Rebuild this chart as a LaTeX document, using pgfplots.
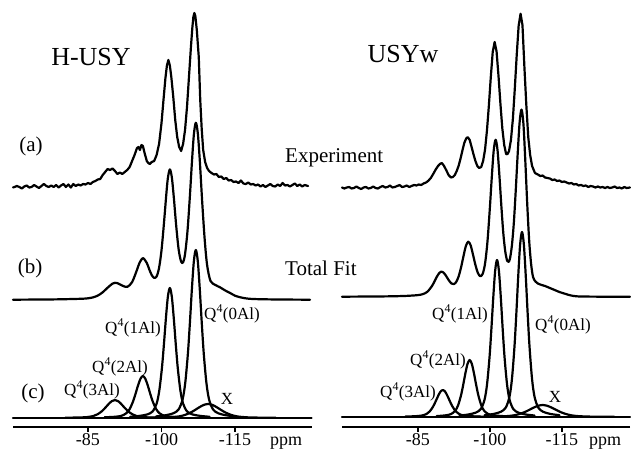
\documentclass[border=0pt]{standalone}
\usepackage{fontspec}
\setmainfont{Liberation Serif}
\usepackage{pgfplots}
\pgfplotsset{compat=1.18}
\newcommand\fT{\fontsize{26}{26}\selectfont}
\newcommand\fA{\fontsize{21}{21}\selectfont}
\newcommand\fQ{\fontsize{17}{17}\selectfont}
\begin{document}
\begin{tikzpicture}
\useasboundingbox (0pt,0pt) rectangle (631pt,450pt);
\pgfplotsset{
  tr/.style={black, line width=2.2pt, line join=round, line cap=round, no markers},
  spec/.style={scale only axis, axis x line*=bottom, axis y line=none, x dir=reverse,
    ymin=0, ymax=427, height=427pt, clip=false,
    xtick={-85,-100,-115}, xticklabels={-85,-100,-115},
    tick align=outside, major tick length=5pt,
    every tick/.style={black, line width=1.4pt},
    xticklabel style={font=\fontsize{18}{18}\selectfont, inner sep=1pt},
    axis line style={line width=1.8pt, -}},
}
% ---------------- LEFT: H-USY ----------------
\begin{axis}[spec, at={(13pt,23pt)}, anchor=south west, width=299pt, xmin=-130.7, xmax=-69.7]
% (a) experiment
\addplot[tr] coordinates {(-69.7,239.5) (-70,240) (-70.5,241) (-71,240) (-71.5,238.5) (-72,240.5) (-72.5,241.5) (-73,239.5) (-73.5,240) (-74,242) (-74.5,240.5) (-75,239) (-75.5,241) (-76,243) (-76.5,241) (-77,240) (-77.5,241.5) (-78,240) (-78.5,242) (-79,239.5) (-79.5,241.5) (-80,243) (-80.5,240) (-81,242.5) (-81.5,239.5) (-82,243) (-82.5,241) (-83,242.5) (-83.5,241.5) (-84,243) (-84.5,242.5) (-85,244) (-85.5,243) (-86,245) (-86.5,246) (-87,247.5) (-87.5,248) (-88,252) (-88.5,255) (-89,258) (-89.5,257) (-90,258.5) (-90.5,256) (-91,253) (-91.5,254.5) (-92,253) (-92.5,255) (-93,257) (-93.5,260) (-94,266) (-94.5,272) (-95,279) (-95.3,280) (-95.6,277) (-95.9,282) (-96.2,281) (-96.6,273) (-97,266) (-97.3,264) (-97.6,263) (-98,265) (-98.5,266) (-99,272) (-99.5,283) (-100,304) (-100.4,327) (-100.8,349) (-101.1,361.5) (-101.4,367) (-101.7,361.5) (-102,350) (-102.4,330) (-102.8,307) (-103.2,290) (-103.6,280) (-104,276) (-104.4,283) (-104.8,297) (-105.2,320) (-105.6,350) (-106,380) (-106.3,400) (-106.5,410) (-106.7,414) (-106.9,411) (-107.2,397) (-107.6,370) (-107.9,327) (-108.2,298) (-108.5,277) (-108.9,265) (-109.3,259) (-109.7,256) (-110.2,254) (-110.7,252.5) (-111.2,253) (-111.7,250) (-112.2,250.5) (-112.7,248) (-113.2,249) (-113.7,246.5) (-114.2,247) (-114.7,245) (-115.2,245.5) (-115.7,244) (-116.2,246.5) (-116.7,243.5) (-117.2,243) (-117.7,244.5) (-118.2,242.5) (-118.7,243) (-119.2,241.5) (-119.7,242.5) (-120.2,240.5) (-120.7,242) (-121.2,240) (-121.7,241.5) (-122.2,243) (-122.7,241) (-123.2,240.5) (-123.7,242.5) (-124.2,241) (-124.7,244) (-125.2,241.5) (-125.7,242) (-126.2,240.5) (-126.7,242) (-127.2,243.5) (-127.7,241) (-128.2,242.5) (-128.7,240.5) (-129.2,242) (-129.9,241)};
% (b) total fit
\addplot[tr, smooth] coordinates {(-69.7,127.3) (-78,127.6) (-82,128.0) (-84,128.3) (-85,128.7) (-86,129.6) (-87,131.4) (-88,134.7) (-89,139.3) (-90,143.4) (-90.5,144.2) (-91,143.9) (-92,141.4) (-93,140.1) (-94,144.9) (-95,157.2) (-95.5,164.0) (-96.2,168.9) (-97,164.0) (-97.5,157.6) (-98,152.0) (-98.5,149.1) (-99,150.6) (-99.5,159.1) (-100,176.8) (-100.5,203.9) (-101,234.0) (-101.3,249.0) (-101.7,257.6) (-102.1,249.8) (-102.5,230.1) (-103,201.0) (-103.5,177.3) (-104,165.4) (-104.4,164.7) (-104.8,172.9) (-105.3,195.9) (-105.8,231.8) (-106.2,264.5) (-106.6,292.4) (-107,304.2) (-107.4,293.9) (-107.8,267.3) (-108.3,225) (-108.8,188) (-109.3,162) (-110,146) (-111,142) (-112,139.5) (-113,136.5) (-114,134) (-115,131.3) (-116,129.8) (-117,128.8) (-118,128.2) (-120,127.8) (-124,127.5) (-130.3,127.3)};
% (c) components
\addplot[tr] coordinates {(-69.7,9) (-130.6,9)};
\addplot[tr, smooth] coordinates {(-80.38,9.3) (-83.02,9.5) (-84.78,9.9) (-86.1,11.0) (-86.98,12.8) (-87.86,15.9) (-88.52,19.2) (-89.18,22.8) (-89.84,25.8) (-90.5,27) (-91.16,25.8) (-91.82,22.8) (-92.48,19.2) (-93.14,15.9) (-94.02,12.8) (-94.9,11.0) (-96.22,9.9) (-97.98,9.5) (-100.62,9.3)};
\addplot[tr, smooth] coordinates {(-88.38,9.7) (-90.42,10.2) (-91.78,11.1) (-92.8,13.7) (-93.48,17.8) (-94.16,25.1) (-94.67,32.7) (-95.18,41.1) (-95.69,48.1) (-96.2,51) (-96.71,48.1) (-97.22,41.1) (-97.73,32.7) (-98.24,25.1) (-98.92,17.8) (-99.6,13.7) (-100.62,11.1) (-101.98,10.2) (-104.02,9.7)};
\addplot[tr, smooth] coordinates {(-93.6,10.2) (-95.49,11.1) (-97.11,12.6) (-98.19,15.6) (-99.0,23.4) (-99.54,36.2) (-100.08,58.8) (-100.485,82.3) (-100.89,108.3) (-101.295,130.2) (-101.7,139) (-102.105,130.2) (-102.51,108.3) (-102.915,82.3) (-103.32,58.8) (-103.86,36.2) (-104.4,23.4) (-105.21,15.6) (-106.29,12.6) (-107.91,11.1) (-109.8,10.2)};
\addplot[tr, smooth] coordinates {(-98.9,10.6) (-100.79,11.7) (-102.41,13.7) (-103.49,17.6) (-104.3,27.6) (-104.84,44.1) (-105.38,73.3) (-105.785,103.8) (-106.19,137.4) (-106.595,165.6) (-107,177) (-107.405,165.6) (-107.81,137.4) (-108.215,103.8) (-108.62,73.3) (-109.16,44.1) (-109.7,27.6) (-110.51,17.6) (-111.59,13.7) (-113.21,11.7) (-115.1,10.6)};
\addplot[tr, smooth] coordinates {(-95.7,9.22) (-99.3,9.39) (-101.7,9.71) (-103.5,10.55) (-104.7,11.93) (-105.9,14.36) (-106.8,16.9) (-107.7,19.7) (-108.6,22.05) (-109.5,23) (-110.4,22.05) (-111.3,19.7) (-112.2,16.9) (-113.1,14.36) (-114.3,11.93) (-115.5,10.55) (-117.3,9.71) (-119.7,9.39) (-123.3,9.22)};
\end{axis}
% ---------------- RIGHT: USYw ----------------
\begin{axis}[spec, at={(342pt,23pt)}, anchor=south west, width=288pt, xmin=-129.2, xmax=-69.2]
\addplot[tr] coordinates {(-69.2,239.5) (-69.7,238.5) (-70.2,239.5) (-70.7,240) (-71.2,238.5) (-71.7,239) (-72.2,240.5) (-72.7,239) (-73.2,238) (-73.7,239.5) (-74.2,240) (-74.7,238.5) (-75.2,239) (-75.7,240.5) (-76.2,239) (-76.7,238.5) (-77.2,240) (-77.7,241) (-78.2,239.5) (-78.7,240) (-79.2,241.5) (-79.7,239.5) (-80.2,240) (-80.7,241) (-81.2,242) (-81.7,240) (-82.2,240.5) (-82.7,241.5) (-83.2,240) (-83.7,241) (-84.2,242) (-84.7,241.5) (-85.2,242.5) (-85.7,242) (-86.2,243.5) (-86.7,244.5) (-87.2,246.3) (-87.7,249) (-88.2,253) (-88.7,257.3) (-89.2,261) (-89.6,263) (-90.0,264) (-90.4,261.5) (-90.9,257) (-91.4,252) (-91.9,249.5) (-92.3,250) (-92.7,252) (-93.1,256) (-93.5,261.3) (-93.9,268.5) (-94.3,276.8) (-94.7,284.4) (-95.1,288.8) (-95.4,289.8) (-95.8,287.1) (-96.2,280) (-96.6,272.6) (-97.0,265.9) (-97.4,260.9) (-97.8,259) (-98.2,260) (-98.6,266) (-99.0,277.3) (-99.4,296.5) (-99.8,321.5) (-100.2,350) (-100.6,375) (-101.0,385) (-101.4,375.6) (-101.8,351.4) (-102.2,323.6) (-102.6,298.6) (-103.0,281.8) (-103.4,272.8) (-103.7,273) (-104.0,276) (-104.4,287.1) (-104.8,308.1) (-105.2,338.3) (-105.6,371.9) (-106.0,401.2) (-106.4,413.3) (-106.8,401.8) (-107.2,360) (-107.6,322) (-108.0,290) (-108.4,272) (-108.8,261) (-109.4,254) (-110,252.5) (-110.5,251) (-111,251.5) (-111.5,249.5) (-112,249) (-112.5,248.5) (-113,247) (-113.5,247.5) (-114,246) (-114.5,246.5) (-115,245) (-115.5,245.5) (-116,244.5) (-116.5,243.5) (-117,244) (-117.5,242.5) (-118,243) (-118.5,241.5) (-119,242) (-119.5,241) (-120,241.5) (-120.5,240) (-121,241) (-121.5,240.5) (-122,239.5) (-122.5,240.5) (-123,239.5) (-123.5,240) (-124,239) (-124.5,240) (-125,239) (-125.5,239.5) (-126,240.5) (-126.5,239) (-127,239.5) (-127.5,238.5) (-128,240) (-128.5,239) (-129.2,239.5)};
\addplot[tr, smooth] coordinates {(-69.2,130.3) (-78,130.6) (-82,131.0) (-84,131.5) (-85,131.9) (-86,132.8) (-87,135.3) (-88,141.4) (-88.5,146.0) (-89,150.6) (-89.5,154.2) (-89.9,155.4) (-90.3,154.6) (-90.8,151.7) (-91.4,147.1) (-92,143.5) (-92.5,142.9) (-93,145.1) (-93.5,150.6) (-94,159.5) (-94.5,170.6) (-95,180.9) (-95.5,185.3) (-96,181.7) (-96.5,172.2) (-97,162.0) (-97.5,154.2) (-98,150.8) (-98.5,153.1) (-99,163.3) (-99.5,185.1) (-100,218.7) (-100.4,249.4) (-100.8,276.2) (-101.2,287.2) (-101.6,276.9) (-102,250.9) (-102.4,221.0) (-102.8,194.1) (-103.2,176.0) (-103.6,166.3) (-103.9,165.1) (-104.2,168.5) (-104.6,181.7) (-105,204.3) (-105.4,236.8) (-105.8,272.9) (-106.2,304.4) (-106.6,317.4) (-107,303) (-107.4,265) (-107.8,222) (-108.2,186) (-108.6,163) (-109,150) (-109.5,145.5) (-110,143.5) (-110.8,142) (-111.5,141) (-112.5,139) (-113.5,137) (-114.5,135) (-115.5,133.5) (-116.5,132) (-117.5,131) (-119,130.5) (-124,130.3) (-129.2,130.2)};
\addplot[tr] coordinates {(-69.2,10) (-129.2,10)};
\addplot[tr, smooth] coordinates {(-82.38,10.4) (-84.42,10.8) (-85.78,11.4) (-86.8,13.0) (-87.48,15.6) (-88.16,20.3) (-88.67,25.2) (-89.18,30.6) (-89.69,35.2) (-90.2,37) (-90.71,35.2) (-91.22,30.6) (-91.73,25.2) (-92.24,20.3) (-92.92,15.6) (-93.6,13.0) (-94.62,11.4) (-95.98,10.8) (-98.02,10.4)};
\addplot[tr, smooth] coordinates {(-88.9,10.9) (-90.7,11.6) (-91.9,12.9) (-92.8,16.3) (-93.4,21.9) (-94.0,31.8) (-94.45,42.1) (-94.9,53.5) (-95.35,63.1) (-95.8,67) (-96.25,63.1) (-96.7,53.5) (-97.15,42.1) (-97.6,31.8) (-98.2,21.9) (-98.8,16.3) (-99.7,12.9) (-100.9,11.6) (-102.7,10.9)};
\addplot[tr, smooth] coordinates {(-93.7,11.5) (-95.52,12.5) (-97.08,14.4) (-98.12,18.0) (-98.9,27.4) (-99.42,42.8) (-99.94,70.1) (-100.33,98.5) (-100.72,129.9) (-101.11,156.3) (-101.5,167) (-101.89,156.3) (-102.28,129.9) (-102.67,98.5) (-103.06,70.1) (-103.58,42.8) (-104.1,27.4) (-104.88,18.0) (-105.92,14.4) (-107.48,12.5) (-109.3,11.5)};
\addplot[tr, smooth] coordinates {(-98.9,11.8) (-100.72,13.0) (-102.28,15.2) (-103.32,19.4) (-104.1,30.5) (-104.62,48.7) (-105.14,80.9) (-105.53,114.3) (-105.92,151.3) (-106.31,182.4) (-106.7,195) (-107.09,182.4) (-107.48,151.3) (-107.87,114.3) (-108.26,80.9) (-108.78,48.7) (-109.3,30.5) (-110.08,19.4) (-111.12,15.2) (-112.68,13.0) (-114.5,11.8)};
\addplot[tr, smooth] coordinates {(-96.05,10.2) (-99.95,10.3) (-102.55,10.6) (-104.5,11.3) (-105.8,12.5) (-107.1,14.6) (-108.08,16.8) (-109.05,19.2) (-110.03,21.2) (-111,22) (-111.97,21.2) (-112.95,19.2) (-113.93,16.8) (-114.9,14.6) (-116.2,12.5) (-117.5,11.3) (-119.45,10.6) (-122.05,10.3) (-125.95,10.2)};
\end{axis}
% ---------------- text ----------------
\node[font=\fT] at (91pt,393pt) {H-USY};
\node[font=\fT] at (403pt,396pt) {USYw};
\node[font=\fA] at (31pt,304pt) {(a)};
\node[font=\fA] at (30pt,182pt) {(b)};
\node[font=\fA] at (33pt,57pt) {(c)};
\node[font=\fA, anchor=base west, inner sep=0pt] at (285pt,287pt) {Experiment};
\node[font=\fA, anchor=base west, inner sep=0pt] at (285pt,175pt) {Total Fit};
\node[font=\fQ] at (232pt,136pt) {Q\textsuperscript{4}(0Al)};
\node[font=\fQ] at (133pt,122pt) {Q\textsuperscript{4}(1Al)};
\node[font=\fQ] at (120pt,83pt) {Q\textsuperscript{4}(2Al)};
\node[font=\fQ] at (92pt,60pt) {Q\textsuperscript{4}(3Al)};
\node[font=\fQ] at (227pt,51pt) {X};
\node[font=\fQ] at (460pt,136pt) {Q\textsuperscript{4}(1Al)};
\node[font=\fQ] at (563pt,125pt) {Q\textsuperscript{4}(0Al)};
\node[font=\fQ] at (438pt,90pt) {Q\textsuperscript{4}(2Al)};
\node[font=\fQ] at (408pt,58pt) {Q\textsuperscript{4}(3Al)};
\node[font=\fQ] at (555pt,53pt) {X};
\node[font=\fontsize{18}{18}\selectfont, anchor=base] at (286pt,5pt) {ppm};
\node[font=\fontsize{18}{18}\selectfont, anchor=base] at (605pt,5pt) {ppm};
\end{tikzpicture}
\end{document}
